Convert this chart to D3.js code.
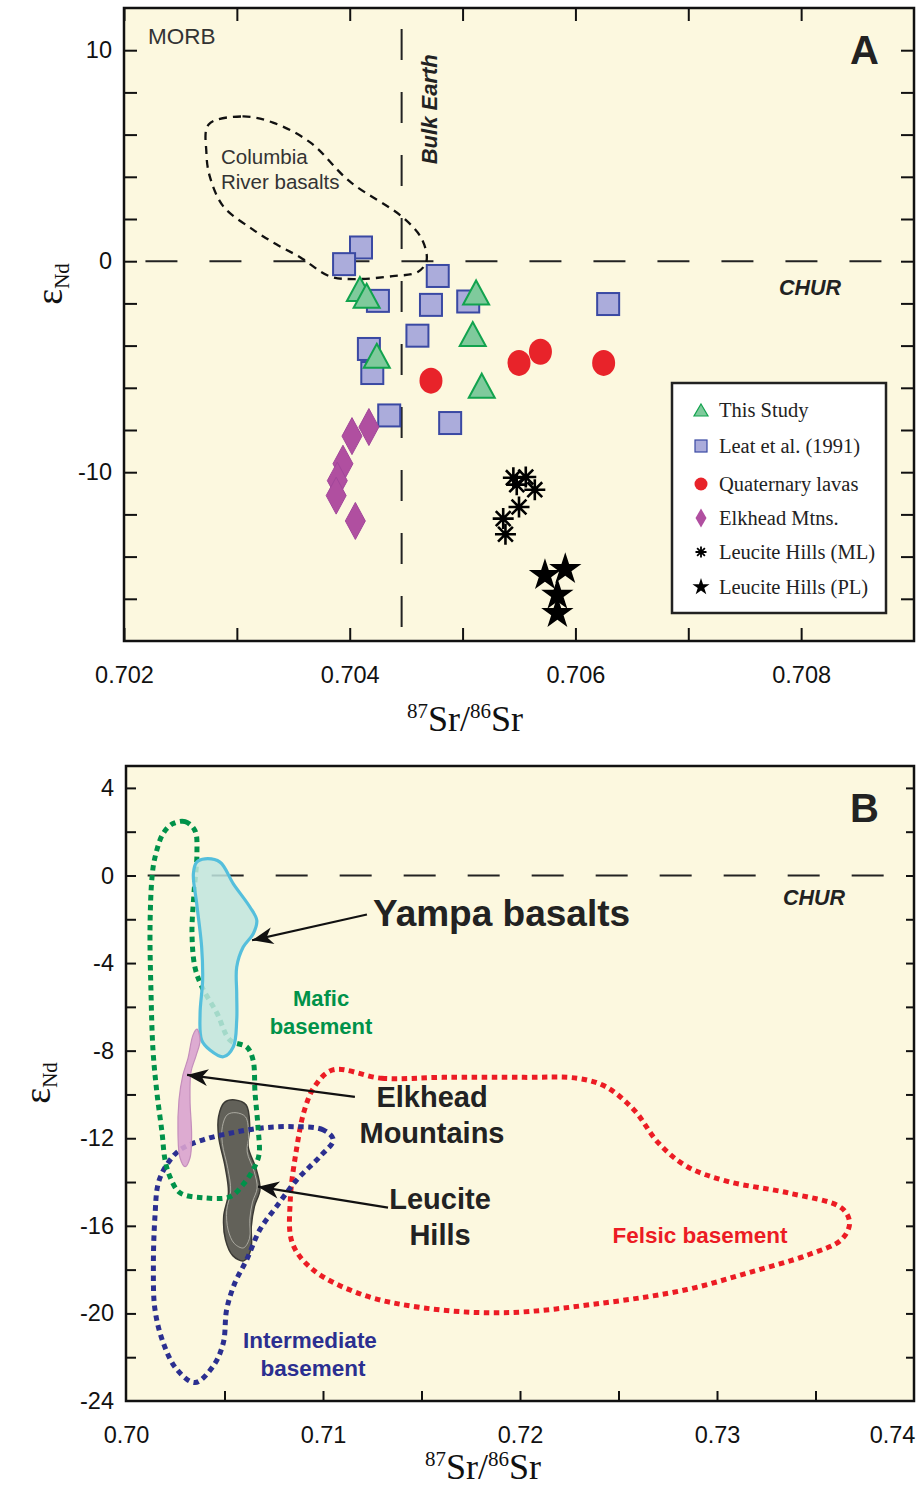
<!DOCTYPE html>
<html>
<head>
<meta charset="utf-8">
<script src="https://cdn.jsdelivr.net/npm/d3@7"></script>
<style>
  html, body { margin: 0; padding: 0; background: #fff; }
  svg text { font-family: 'Liberation Sans', Arial, Helvetica, sans-serif; }
  .serif { font-family: 'Liberation Serif', 'Times New Roman', serif !important; }
</style>
</head>
<body>
<div class="chart"></div>
<script>
// ---------- Panel A data : [87Sr/86Sr, eNd] ----------
var thisStudy = [[0.70409, -1.32], [0.70415, -1.64], [0.70512, -1.48], [0.70509, -3.45], [0.70424, -4.48], [0.70517, -5.90]];
var leat1991 = [[0.70410, 0.65], [0.70395, -0.14], [0.70425, -1.88], [0.70478, -0.70], [0.70472, -2.07], [0.70505, -1.91],
    [0.70629, -2.03], [0.70460, -3.53], [0.70417, -4.16], [0.70420, -5.30], [0.70435, -7.31], [0.70489, -7.67]];
var quaternary = [[0.70472, -5.66], [0.70550, -4.82], [0.70569, -4.29], [0.70625, -4.82]];
var elkhead = [[0.70402, -8.29], [0.70417, -7.86], [0.70394, -9.60], [0.70389, -10.40], [0.70388, -11.11], [0.70405, -12.31]];
var leuciteML = [[0.70548, -10.59], [0.70556, -10.23], [0.70564, -10.83], [0.70550, -11.65], [0.70536, -12.20], [0.70538, -12.94], [0.70545, -10.26]];
var leucitePL = [[0.70573, -14.88], [0.70591, -14.60], [0.70584, -15.82], [0.70584, -16.69]];
var columbiaRiver = [[0.70275, 6.48], [0.70305, 6.86], [0.70332, 6.57], [0.70365, 5.63], [0.70400, 3.78], [0.70447, 2.08],
    [0.70464, 1.04], [0.70468, 0], [0.70460, -0.52], [0.70438, -0.71], [0.70403, -0.85], [0.70382, -0.71], [0.70356, 0.19],
    [0.70335, 0.80], [0.70314, 1.51], [0.70288, 2.60], [0.70276, 4.02], [0.70273, 5.15]];
var bulkEarthSr = 0.70446;
var churNd = 0;

var xTicksA = [0.702, 0.703, 0.704, 0.705, 0.706, 0.707, 0.708];
var xLabelsA = [0.702, 0.704, 0.706, 0.708];
var yTicksA = [-16, -14, -12, -10, -8, -6, -4, -2, 0, 2, 4, 6, 8, 10];
var yLabelsA = [-10, 0, 10];
var legendNames = ['This Study', 'Leat et al. (1991)', 'Quaternary lavas', 'Elkhead Mtns.', 'Leucite Hills (ML)', 'Leucite Hills (PL)'];

// ---------- Panel B data : fields ----------
var maficBasement = [[0.70239, 2.37], [0.70300, 2.46], [0.70350, 2.05], [0.70360, 1.00], [0.70345, -0.82], [0.70335, -2.64],
    [0.70350, -4.19], [0.70386, -5.10], [0.70462, -6.29], [0.70528, -7.52], [0.70614, -7.84], [0.70645, -8.43], [0.70655, -9.93],
    [0.70670, -11.48], [0.70675, -12.76], [0.70645, -13.44], [0.70594, -14.12], [0.70528, -14.67], [0.70391, -14.72],
    [0.70274, -14.49], [0.70223, -13.76], [0.70198, -12.98], [0.70183, -11.75], [0.70157, -9.93], [0.70137, -7.97],
    [0.70127, -5.38], [0.70122, -2.37], [0.70132, -0.09], [0.70147, 0.82], [0.70188, 1.91]];
var intermediateBasement = [[0.71052, -12.07], [0.71002, -11.62], [0.70849, -11.47], [0.70680, -11.54], [0.70528, -11.77],
    [0.70392, -12.07], [0.70274, -12.53], [0.70207, -13.21], [0.70164, -14.05], [0.70147, -15.57], [0.70139, -17.85],
    [0.70147, -19.82], [0.70189, -21.34], [0.70257, -22.55], [0.70350, -23.16], [0.70443, -22.40], [0.70494, -21.34],
    [0.70511, -19.82], [0.70553, -18.60], [0.70613, -17.54], [0.70680, -16.17], [0.70765, -15.11], [0.70867, -13.90],
    [0.70985, -12.83]];
var felsicBasement = [[0.71050, -8.88], [0.71298, -9.26], [0.71608, -9.22], [0.72020, -9.22], [0.72289, -9.26], [0.72434, -9.64],
    [0.72579, -10.71], [0.72703, -12.22], [0.72847, -13.29], [0.73053, -13.97], [0.73363, -14.50], [0.73632, -15.18],
    [0.73673, -15.87], [0.73632, -16.63], [0.73467, -17.31], [0.73157, -18.15], [0.72847, -18.91], [0.72434, -19.51],
    [0.71918, -19.97], [0.71505, -19.74], [0.71195, -19.13], [0.70947, -17.99], [0.70844, -16.78], [0.70834, -14.81],
    [0.70865, -12.53], [0.70906, -10.71], [0.70957, -9.64]];
var yampaField = [[0.70401, 0.76], [0.70477, 0.61], [0.70545, -0.38], [0.70629, -1.44], [0.70664, -2.05], [0.70646, -2.66],
    [0.70595, -3.27], [0.70562, -4.18], [0.70562, -5.39], [0.70562, -6.61], [0.70545, -7.82], [0.70494, -8.28], [0.70426, -7.97],
    [0.70384, -7.52], [0.70376, -6.30], [0.70389, -4.78], [0.70384, -3.27], [0.70359, -1.29], [0.70342, 0.08], [0.70359, 0.61]];
var elkheadField = [[0.70360, -7.02], [0.70376, -7.52], [0.70355, -8.25], [0.70330, -8.97], [0.70325, -10.25], [0.70333, -11.85],
    [0.70325, -12.89], [0.70300, -13.30], [0.70274, -12.89], [0.70264, -11.85], [0.70269, -10.25], [0.70289, -9.11],
    [0.70315, -8.34], [0.70340, -7.29]];
var leuciteField = [[0.70553, -10.25], [0.70610, -10.48], [0.70628, -11.47], [0.70620, -12.38], [0.70662, -13.44], [0.70680, -14.35],
    [0.70652, -15.11], [0.70636, -16.02], [0.70634, -17.08], [0.70597, -17.60], [0.70542, -17.36], [0.70505, -16.63],
    [0.70496, -15.57], [0.70520, -14.50], [0.70503, -13.29], [0.70470, -11.92], [0.70470, -11.01], [0.70500, -10.36]];
// arrows : [from, to]
var yampaArrow = [[0.71223, -1.78], [0.70640, -2.96]];
var elkheadArrow = [[0.71162, -10.11], [0.70310, -9.11]];
var leuciteArrow = [[0.71330, -15.17], [0.70670, -14.21]];

var xTicksB = [0.705, 0.71, 0.715, 0.72, 0.725, 0.73, 0.735];
var xLabelsB = [0.70, 0.71, 0.72, 0.73, 0.74];
var yTicksB = [-22, -20, -18, -16, -14, -12, -10, -8, -6, -4, -2, 0, 2, 4];
var yLabelsB = [-24, -20, -16, -12, -8, -4, 0, 4];

var bg = '#fcf8df';

var svg = d3.select('.chart')
    .append('svg')
    .attr('width', 917)
    .attr('height', 1489);

// ---------- symbol helpers ----------
function trianglePath(w, h) {
    return 'M0,' + (-h / 2) + 'L' + (w / 2) + ',' + (h / 2) + 'L' + (-w / 2) + ',' + (h / 2) + 'Z';
}
function diamondPath(w, h) {
    return 'M0,' + (-h / 2) + 'L' + (w / 2) + ',0L0,' + (h / 2) + 'L' + (-w / 2) + ',0Z';
}
function starPath(R) {
    var r = R * 0.382, p = [];
    for (var i = 0; i < 10; i++) {
        var a = -Math.PI / 2 + i * Math.PI / 5, rr = i % 2 ? r : R;
        p.push([rr * Math.cos(a), rr * Math.sin(a)]);
    }
    return 'M' + p.join('L') + 'Z';
}
function asteriskPath(R) {
    var s = '';
    for (var i = 0; i < 4; i++) {
        var a = i * Math.PI / 4;
        s += 'M' + (-R * Math.cos(a)) + ',' + (-R * Math.sin(a)) + 'L' + (R * Math.cos(a)) + ',' + (R * Math.sin(a));
    }
    return s;
}
// plain hyphen for negatives, like the original figure
function hyphen(f) {
    return function (d) { return f(d).replace('\u2212', '-'); };
}

// ---------- common axis drawing ----------
function drawAxes(g, x, y, w, h, opt) {
    // tick marks, inward
    g.append('g').attr('transform', 'translate(0,' + h + ')')
        .call(d3.axisBottom(x).tickValues(opt.xTicks).tickSize(-opt.tick).tickFormat(''));
    if (opt.topTicks) {
        g.append('g').call(d3.axisTop(x).tickValues(opt.xTicks).tickSize(-opt.tick).tickFormat(''));
    }
    g.append('g').call(d3.axisLeft(y).tickValues(opt.yTicks).tickSize(-opt.tick).tickFormat(''));
    g.append('g').attr('transform', 'translate(' + w + ',0)')
        .call(d3.axisRight(y).tickValues(opt.yTicks).tickSize(-opt.rtick).tickFormat(''));
    // labels
    var xl = g.append('g').attr('transform', 'translate(0,' + h + ')')
        .call(d3.axisBottom(x).tickValues(opt.xLabels).tickSize(0).tickPadding(opt.xpad).tickFormat(d3.format(opt.xfmt)));
    if (opt.lastShift) {
        xl.selectAll('.tick text').filter((d, i, n) => i === n.length - 1).attr('dx', opt.lastShift);
    }
    g.append('g')
        .call(d3.axisLeft(y).tickValues(opt.yLabels).tickSize(0).tickPadding(12).tickFormat(hyphen(d3.format('d'))));
    g.selectAll('.domain').remove();
    g.selectAll('.tick line').attr('stroke', '#111').attr('stroke-width', 2);
    g.selectAll('.tick text').attr('font-size', 23.5).attr('fill', '#111')
        .attr('font-family', "'Liberation Sans', Arial, sans-serif");
    // frame
    g.append('rect').attr('width', w).attr('height', h)
        .attr('fill', 'none').attr('stroke', '#111').attr('stroke-width', 2.5);
}

function axisTitles(g, xcx, xcy, ycx, ycy) {
    var xt = g.append('text').attr('class', 'serif').attr('x', xcx).attr('y', xcy)
        .attr('text-anchor', 'middle').attr('fill', '#111').attr('font-size', 36);
    xt.append('tspan').attr('font-size', 21).attr('dy', -13).text('87');
    xt.append('tspan').attr('dy', 13).text('Sr/');
    xt.append('tspan').attr('font-size', 21).attr('dy', -13).text('86');
    xt.append('tspan').attr('dy', 13).text('Sr');
    var yt = g.append('text').attr('class', 'serif')
        .attr('transform', 'translate(' + ycx + ',' + ycy + ') rotate(-90)')
        .attr('text-anchor', 'middle').attr('fill', '#111').attr('font-size', 38);
    yt.append('tspan').text('\u03b5');
    yt.append('tspan').attr('font-size', 21).attr('dy', 7).text('Nd');
}

// =========================================================
// Panel A
// =========================================================
var mA = {left: 124, top: 8}, wA = 790, hA = 633;
var gA = svg.append('g').attr('transform', 'translate(' + mA.left + ',' + mA.top + ')');
var xA = d3.scaleLinear().domain([0.702, 0.709]).range([0, wA]);
var yA = d3.scaleLinear().domain([-18, 12]).range([hA, 0]);

gA.append('rect').attr('width', wA).attr('height', hA).attr('fill', bg);

// reference lines
gA.append('line')
    .attr('x1', xA(0.70219)).attr('x2', wA).attr('y1', yA(churNd)).attr('y2', yA(churNd))
    .attr('stroke', '#222').attr('stroke-width', 2).attr('stroke-dasharray', '32,32');
gA.append('line')
    .attr('x1', xA(bulkEarthSr)).attr('x2', xA(bulkEarthSr)).attr('y1', yA(11)).attr('y2', hA)
    .attr('stroke', '#222').attr('stroke-width', 2).attr('stroke-dasharray', '31,32');

// Columbia River basalts field
gA.append('path')
    .attr('d', d3.line().x(d => xA(d[0])).y(d => yA(d[1])).curve(d3.curveCatmullRomClosed)(columbiaRiver))
    .attr('fill', 'none').attr('stroke', '#111').attr('stroke-width', 2.3).attr('stroke-dasharray', '8,6');

gA.append('text').attr('x', 24).attr('y', 36).attr('font-size', 22.5).attr('fill', '#333').text('MORB');
gA.append('text').attr('x', 97).attr('y', 156).attr('font-size', 20.5).attr('fill', '#333').text('Columbia');
gA.append('text').attr('x', 97).attr('y', 181).attr('font-size', 20.5).attr('fill', '#333').text('River basalts');
gA.append('text')
    .attr('transform', 'translate(' + (xA(bulkEarthSr) + 35) + ',' + yA(7.2) + ') rotate(-90)')
    .attr('text-anchor', 'middle').attr('font-size', 22).attr('font-weight', 'bold')
    .attr('font-style', 'italic').attr('fill', '#222').text('Bulk Earth');
gA.append('text').attr('x', 655).attr('y', yA(-1.6)).attr('font-size', 21.5)
    .attr('font-weight', 'bold').attr('font-style', 'italic').attr('fill', '#222').text('CHUR');
gA.append('text').attr('x', 726).attr('y', 56).attr('font-size', 40)
    .attr('font-weight', 'bold').attr('fill', '#222').text('A');

// data points
gA.selectAll('.leat').data(leat1991).enter().append('rect').attr('class', 'leat')
    .attr('x', d => xA(d[0]) - 11).attr('y', d => yA(d[1]) - 11)
    .attr('width', 22).attr('height', 22)
    .attr('fill', '#abacdb').attr('stroke', '#3a49a3').attr('stroke-width', 2);

gA.selectAll('.study').data(thisStudy).enter().append('path').attr('class', 'study')
    .attr('transform', d => 'translate(' + xA(d[0]) + ',' + yA(d[1]) + ')')
    .attr('d', trianglePath(26, 24))
    .attr('fill', '#7fca9c').attr('stroke', '#12a34e').attr('stroke-width', 2);

gA.selectAll('.quat').data(quaternary).enter().append('ellipse').attr('class', 'quat')
    .attr('cx', d => xA(d[0])).attr('cy', d => yA(d[1]))
    .attr('rx', 11.5).attr('ry', 13).attr('fill', '#e8232a');

gA.selectAll('.elk').data(elkhead).enter().append('path').attr('class', 'elk')
    .attr('transform', d => 'translate(' + xA(d[0]) + ',' + yA(d[1]) + ')')
    .attr('d', diamondPath(20, 37))
    .attr('fill', '#b04fa0').attr('stroke', '#a2469a').attr('stroke-width', 1);

gA.selectAll('.ml').data(leuciteML).enter().append('path').attr('class', 'ml')
    .attr('transform', d => 'translate(' + xA(d[0]) + ',' + yA(d[1]) + ')')
    .attr('d', asteriskPath(10.5))
    .attr('stroke', '#000').attr('stroke-width', 2.6);

gA.selectAll('.pl').data(leucitePL).enter().append('path').attr('class', 'pl')
    .attr('transform', d => 'translate(' + xA(d[0]) + ',' + yA(d[1]) + ')')
    .attr('d', starPath(17)).attr('fill', '#000');

drawAxes(gA, xA, yA, wA, hA, {
    xTicks: xTicksA, xLabels: xLabelsA, yTicks: yTicksA, yLabels: yLabelsA,
    xfmt: '.3f', tick: 13, rtick: 13, topTicks: true, xpad: 25
});

// legend
var leg = gA.append('g').attr('transform', 'translate(548,375)');
leg.append('rect').attr('width', 214).attr('height', 230)
    .attr('fill', '#fff').attr('stroke', '#222').attr('stroke-width', 2.5);
var rowsY = [27, 63, 101, 135, 169, 204];
var legSym = [
    function (s) { s.append('path').attr('d', trianglePath(14, 12)).attr('fill', '#7fca9c').attr('stroke', '#12a34e').attr('stroke-width', 1.2); },
    function (s) { s.append('rect').attr('x', -6).attr('y', -6).attr('width', 12).attr('height', 12).attr('fill', '#abacdb').attr('stroke', '#3a49a3').attr('stroke-width', 1.2); },
    function (s) { s.append('circle').attr('r', 6.5).attr('fill', '#e8232a'); },
    function (s) { s.append('path').attr('d', diamondPath(11, 19)).attr('fill', '#b04fa0'); },
    function (s) { s.append('path').attr('d', asteriskPath(5.5)).attr('stroke', '#000').attr('stroke-width', 1.8); },
    function (s) { s.append('path').attr('d', starPath(9)).attr('fill', '#000'); }
];
legendNames.forEach(function (name, i) {
    var row = leg.append('g').attr('transform', 'translate(0,' + rowsY[i] + ')');
    legSym[i](row.append('g').attr('transform', 'translate(29,0)'));
    row.append('text').attr('class', 'serif').attr('x', 47).attr('y', 7)
        .attr('font-size', 20.5).attr('fill', '#222').text(name);
});

axisTitles(svg, 465, 731, 62, 284);

// =========================================================
// Panel B
// =========================================================
var mB = {left: 126, top: 766}, wB = 788, hB = 635;
var gB = svg.append('g').attr('transform', 'translate(' + mB.left + ',' + mB.top + ')');
var xB = d3.scaleLinear().domain([0.70, 0.74]).range([0, wB]);
var yB = d3.scaleLinear().domain([-24, 5]).range([hB, 0]);
var lineB = d3.line().x(d => xB(d[0])).y(d => yB(d[1])).curve(d3.curveCatmullRomClosed);

gB.append('rect').attr('width', wB).attr('height', hB).attr('fill', bg);

gB.append('line')
    .attr('x1', xB(0.7011)).attr('x2', wB).attr('y1', yB(churNd)).attr('y2', yB(churNd))
    .attr('stroke', '#222').attr('stroke-width', 2).attr('stroke-dasharray', '32,32');

// Leucite Hills field
gB.append('path').attr('d', lineB(leuciteField))
    .attr('fill', '#55544d').attr('fill-opacity', 0.92).attr('stroke', '#3b3a35').attr('stroke-width', 1.5);
gB.append('path').attr('d', lineB(leuciteField))
    .attr('transform', 'translate(' + xB(0.7059) + ',' + yB(-13.9) + ') scale(0.84) translate(' + (-xB(0.7059)) + ',' + (-yB(-13.9)) + ')')
    .attr('fill', 'none').attr('stroke', '#b9b8ae').attr('stroke-width', 1);

// basement fields (dotted)
var dotted = [[felsicBasement, '#ec1c24'], [intermediateBasement, '#2b2f90'], [maficBasement, '#00924a']];
dotted.forEach(function (f) {
    gB.append('path').attr('d', lineB(f[0]))
        .attr('fill', 'none').attr('stroke', f[1]).attr('stroke-width', 5).attr('stroke-dasharray', '5.5,4.5');
});

// Yampa basalts field
gB.append('path').attr('d', lineB(yampaField))
    .attr('fill', '#bfe5df').attr('fill-opacity', 0.85).attr('stroke', '#55bfdc').attr('stroke-width', 3.2);

// Elkhead Mountains field
gB.append('path').attr('d', lineB(elkheadField))
    .attr('fill', '#d9a2cf').attr('fill-opacity', 0.9).attr('stroke', '#c48ebb').attr('stroke-width', 1.2);

// arrows
svg.append('defs').append('marker').attr('id', 'arr')
    .attr('viewBox', '-22 -10 24 20').attr('refX', 0).attr('refY', 0)
    .attr('markerWidth', 24).attr('markerHeight', 20).attr('markerUnits', 'userSpaceOnUse')
    .attr('orient', 'auto')
    .append('path').attr('d', 'M0,0L-21,-8.5L-15,0L-21,8.5Z').attr('fill', '#111');
[yampaArrow, elkheadArrow, leuciteArrow].forEach(function (a) {
    gB.append('line')
        .attr('x1', xB(a[0][0])).attr('y1', yB(a[0][1]))
        .attr('x2', xB(a[1][0])).attr('y2', yB(a[1][1]))
        .attr('stroke', '#111').attr('stroke-width', 2.2).attr('marker-end', 'url(#arr)');
});

// annotations
function label(txt, x, y, size, color, anchor) {
    gB.append('text').attr('x', x).attr('y', y).attr('font-size', size).attr('font-weight', 'bold')
        .attr('fill', color).attr('text-anchor', anchor || 'middle').text(txt);
}
label('Yampa basalts', 247, 160, 37, '#222', 'start');
label('Mafic', 195, 240, 22, '#00924a');
label('basement', 195, 268, 22, '#00924a');
label('Elkhead', 306, 341, 29, '#222');
label('Mountains', 306, 377, 29, '#222');
label('Leucite', 314, 443, 29, '#222');
label('Hills', 314, 479, 29, '#222');
label('Felsic basement', 574, 477, 22.5, '#ec1c24');
label('Intermediate', 184, 582, 22.5, '#2b2f90');
label('basement', 187, 610, 22.5, '#2b2f90');
gB.append('text').attr('x', 657).attr('y', 139).attr('font-size', 21.5)
    .attr('font-weight', 'bold').attr('font-style', 'italic').attr('fill', '#222').text('CHUR');
gB.append('text').attr('x', 724).attr('y', 56).attr('font-size', 40)
    .attr('font-weight', 'bold').attr('fill', '#222').text('B');

drawAxes(gB, xB, yB, wB, hB, {
    xTicks: xTicksB, xLabels: xLabelsB, yTicks: yTicksB, yLabels: yLabelsB,
    xfmt: '.2f', tick: 10, rtick: 8, topTicks: false, xpad: 25, lastShift: -22
});

axisTitles(svg, 483, 1479, 50, 1083);
</script>
</body>
</html>
